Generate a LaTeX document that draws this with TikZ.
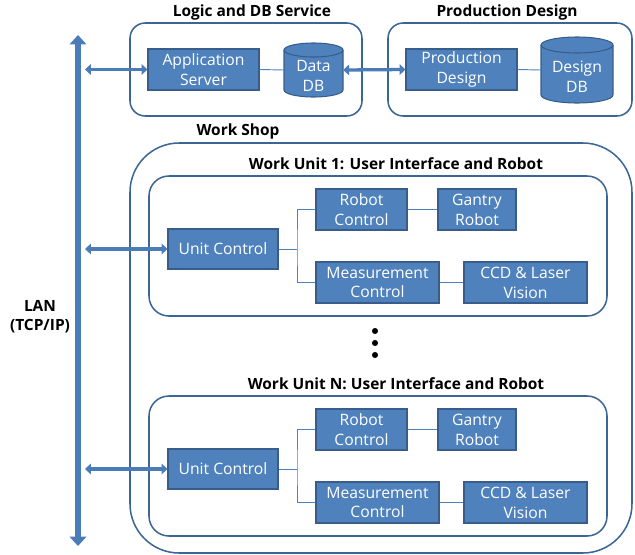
\documentclass[tikz,border=0pt]{standalone}
\usepackage{fontspec}
\setmainfont{Open Sans}
\usetikzlibrary{arrows.meta,fit}
\definecolor{fillblue}{HTML}{4F81BD}
\definecolor{edgeblue}{HTML}{385D8A}
\definecolor{frameblue}{HTML}{3A6594}
\definecolor{busblue}{HTML}{4A7CB8}
% a block given by its corner pixels: name, x1, y1, x2, y2, text
\newcommand{\blk}[6]{%
  \node[block, minimum width={(#4-#2)*0.03cm}, minimum height={(#5-#3)*0.03cm}]
    (#1) at ({(#2+#4)/2},{(#3+#5)/2}) {#6};}
\begin{document}
\begin{tikzpicture}[x=0.03cm, y=-0.03cm,
  block/.style={draw=edgeblue, fill=fillblue, line width=0.9pt, text=white,
    font=\fontsize{13.4}{17}\selectfont, align=center, inner sep=0pt},
  dbtext/.style={text=white, font=\fontsize{13.4}{17}\selectfont, align=center, inner sep=0pt},
  dbbody/.style={draw=edgeblue, fill=fillblue, line width=0.9pt},
  frame/.style={draw=frameblue, line width=1.3pt, rounded corners=13pt, inner sep=0pt},
  unitframe/.style={frame, rounded corners=17pt},
  shopframe/.style={frame, rounded corners=42pt},
  title/.style={font=\bfseries\fontsize{13.2}{16}\selectfont, inner sep=0pt},
  link/.style={draw=fillblue, line width=0.8pt},
  bus/.style={draw=busblue, line width=5pt, {Triangle[length=8pt,width=14pt]}-{Triangle[length=8pt,width=14pt]}},
  tap/.style={draw=busblue, line width=2.8pt, {Triangle[length=5pt,width=9pt]}-{Triangle[length=5pt,width=9pt]}}
]
\useasboundingbox (0,0) rectangle (635,555);

% LAN backbone
\coordinate (lantop) at (78,35);
\coordinate (lanbot) at (78,546);
\coordinate (bus) at (85,0);
\draw[bus] (lantop) -- (lanbot);
\node[title, align=center] (lan) at (40,317) {LAN\\(TCP/IP)};

% Logic and DB service
\node[frame, fit={(130,23) (362,116)}] (logic) {};
\node[title] (logictitle) at (252,12) {Logic and DB Service};
\blk{app}{148}{49}{259}{90}{Application\\Server}
\draw[dbbody] (284,50) -- (284,90) arc (180:0:29.5 and 7) -- (343,50) arc (0:-180:29.5 and 7) -- cycle;
\draw[dbbody] (284,50) arc (180:0:29.5 and 7);
\node[dbtext, fit={(284,43) (343,97)}] (ddb) {};
\node[dbtext] (ddbtext) at (313.5,76) {Data\\DB};

% Production design
\node[frame, fit={(388,23) (632,116)}] (prod) {};
\node[title] (prodtitle) at (507,12) {Production Design};
\blk{pd}{406}{49}{517}{90}{Production\\Design}
\draw[dbbody] (541,45) -- (541,95) arc (180:0:36 and 8) -- (613,45) arc (0:-180:36 and 8) -- cycle;
\draw[dbbody] (541,45) arc (180:0:36 and 8);
\node[dbtext, fit={(541,37) (613,103)}] (gdb) {};
\node[dbtext] (gdbtext) at (577,77) {Design\\DB};

\draw[link] (app.east) -- (ddb.west);
\draw[link] (pd.east) -- (gdb.west);
\draw[tap] (bus |- app.west) -- (app.west);
\draw[tap] (ddb.east) -- (pd.west);

% Work shop
\node[shopframe, fit={(130,143) (632,553)}] (shop) {};
\node[title] (shoptitle) at (238,131) {Work Shop};

\foreach \k/\dy in {1/0, N/220} {
  \begin{scope}[yshift=-\dy*0.03cm]
    \node[unitframe, fit={(149,176) (607,316)}] (wu\k) {};
    \node[title] (wut\k) at (396,164) {Work Unit \k: User Interface and Robot};
    \blk{uc\k}{168}{229}{278}{269}{Unit Control}
    \blk{rc\k}{316}{189}{407}{230}{Robot\\Control}
    \blk{gr\k}{438}{189}{516}{230}{Gantry\\Robot}
    \blk{mc\k}{316}{262}{439}{303}{Measurement\\Control}
    \blk{cv\k}{464}{262}{587}{303}{CCD \& Laser\\Vision}
    \coordinate (br\k) at (297,249);
  \end{scope}
  \draw[link] (uc\k.east) -- (br\k);
  \draw[link] (rc\k.west) -| (br\k) |- (mc\k.west);
  \draw[link] (rc\k.east) -- (gr\k.west);
  \draw[link] (mc\k.east) -- (cv\k.west);
  \draw[tap] (bus |- uc\k.west) -- (uc\k.west);
}

% vertical ellipsis between units
\foreach \yy in {331,343,355} \fill (375,\yy) circle (2.6pt);
\end{tikzpicture}
\end{document}
